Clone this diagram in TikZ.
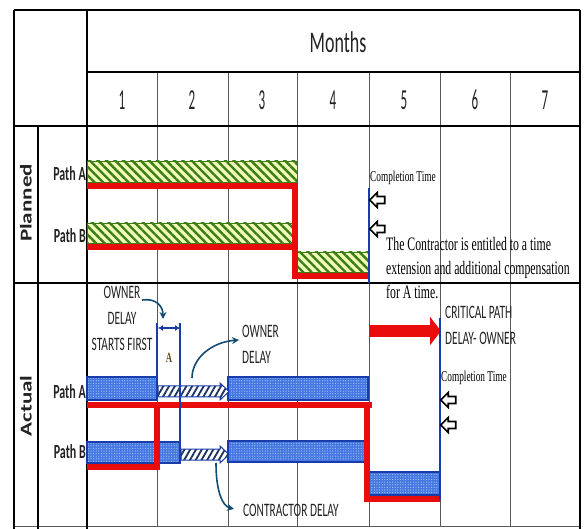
\documentclass[tikz,border=0pt]{standalone}
\usepackage{fontspec}
\newfontfamily\calib[FakeStretch=0.6]{Carlito}
\newfontfamily\calibnarrow[FakeStretch=0.45]{Carlito}
\newfontfamily\calibwide{Carlito}
\newfontfamily\tnr[FakeStretch=0.62]{Liberation Serif}
\usetikzlibrary{arrows.meta,patterns.meta,shapes.arrows}
\definecolor{critred}{RGB}{232,12,12}
\definecolor{hatchgreen}{RGB}{60,125,20}
\definecolor{hatchfill}{RGB}{240,250,185}
\definecolor{barblue}{RGB}{70,120,225}
\definecolor{dotblue}{RGB}{165,195,248}
\definecolor{edgeblue}{RGB}{25,60,170}
\definecolor{curveblue}{RGB}{20,75,115}
\definecolor{stripenavy}{RGB}{25,50,95}
\definecolor{textgray}{RGB}{35,35,35}
\definecolor{alabel}{RGB}{95,75,20}

\begin{document}
\begin{tikzpicture}[x=1pt, y=-1pt,
  every node/.style={inner sep=0pt, text=textgray},
  thickrule/.style={line width=2.6pt, black},
  thinrule/.style={line width=0.8pt, black!65},
  hatchbar/.style={preaction={fill=hatchfill}, pattern={Lines[angle=-45,distance=6pt,line width=2.4pt]}, pattern color=hatchgreen, draw=hatchgreen, line width=0.8pt},
  bluebar/.style={preaction={fill=barblue}, pattern={Dots[radius=0.6pt,distance=2.6pt]}, pattern color=dotblue, draw=edgeblue, line width=1.2pt},
  stripearrow/.style={preaction={fill=white}, pattern={Lines[angle=60,distance=5pt,line width=1.8pt]}, pattern color=stripenavy, draw=edgeblue, line width=1pt},
  redline/.style={critred, line width=6pt},
  curvearrow/.style={curveblue, line width=1.6pt, -{Stealth[length=7pt,width=7pt]}},
  outarrow/.style={single arrow, draw=black, line width=1.7pt, fill=white, shape border rotate=180, minimum height=15pt, minimum width=15pt, single arrow head extend=3.5pt, inner sep=2.2pt},
  sans/.style={font=\calib\fontsize{19}{26}\selectfont},
  serif/.style={font=\tnr\fontsize{19}{24}\selectfont, text=black}]
\useasboundingbox (0,0) rectangle (584,529);

% grid
\foreach \x in {157,228,297,369,440,510}
  \draw[thinrule] (\x,72) -- (\x,527);
\draw[thinrule] (14,526) -- (580,526);
\draw[thickrule] (14,10) -- (580,10);
\draw[thickrule] (14,10) -- (14,529);
\draw[thickrule] (580,10) -- (580,529);
\draw[thickrule] (87,10) -- (87,529);
\draw[thickrule] (38,126) -- (38,529);
\draw[thickrule] (87,72) -- (580,72);
\draw[thickrule] (14,126) -- (580,126);
\draw[thickrule] (14,283) -- (580,283);

% headings
\node[font=\calib\fontsize{30}{30}\selectfont] (months) at (338,42) {Months};
\foreach \m [count=\i] in {122,192,262,333,404,475,545}
  \node[font=\calibnarrow\fontsize{29}{29}\selectfont] (month\i) at (\m,100) {\i};
\node[rotate=90] (planned) at (26,203) {\scalebox{1}[0.72]{\calibwide\bfseries\fontsize{23}{23}\selectfont Planned}};
\node[rotate=90] (actual) at (26,406) {\scalebox{1}[0.72]{\calibwide\bfseries\fontsize{23}{23}\selectfont Actual}};
\node[anchor=east, font=\calib\bfseries\fontsize{20}{20}\selectfont] (pathAplan) at (86,174) {Path A};
\node[anchor=east, font=\calib\bfseries\fontsize{20}{20}\selectfont] (pathBplan) at (86,236) {Path B};
\node[anchor=east, font=\calib\bfseries\fontsize{20}{20}\selectfont] (pathAact) at (86,392) {Path A};
\node[anchor=east, font=\calib\bfseries\fontsize{20}{20}\selectfont] (pathBact) at (86,452) {Path B};

% planned schedule
\draw[hatchbar] (87,161) rectangle (297,182);
\draw[hatchbar] (87,223) rectangle (295,243);
\draw[hatchbar] (297,252) rectangle (369,272);
\draw[redline] (87,186) -- (295,186) -- (295,276) -- (369,276);
\draw[redline] (87,247) -- (295,247);
\draw[edgeblue, line width=1.5pt] (369,188) -- (369,283);
\node[anchor=west, font=\tnr\fontsize{15}{15}\selectfont, text=black] (donePlan) at (370,178) {Completion Time};
\node[outarrow] (cueA) at (379,200) {};
\node[outarrow] (cueB) at (379,229) {};
\node[serif, anchor=north west, align=left] (entitled) at (386,237)
  {The Contractor is entitled to a time\\extension and additional compensation\\for A time.};

% actual schedule
\draw[bluebar] (87,377) rectangle (157,400);
\draw[bluebar] (228,377) rectangle (368,400);
\draw[bluebar] (87,442) rectangle (180,463);
\draw[bluebar] (228,441) rectangle (366,462);
\draw[bluebar] (369,472) rectangle (440,495);
\draw[stripearrow] (158,386) -- (220,386) -- (220,383) -- (229,391.5) -- (220,400) -- (220,397) -- (158,397) -- cycle;
\draw[stripearrow] (181,449) -- (220,449) -- (220,446) -- (229,454.5) -- (220,463) -- (220,460) -- (181,460) -- cycle;
\draw[redline] (87,405) -- (372,405);
\draw[redline] (87,467) -- (157,467) -- (157,405);
\draw[redline] (367,405) -- (367,499) -- (440,499);
\draw[edgeblue, line width=1.2pt] (157,323) -- (157,377);
\draw[edgeblue, line width=1.2pt] (180,323) -- (180,442);
\coordinate (aleft) at (158,328);
\coordinate (aright) at (180,328);
\draw[edgeblue, line width=1.8pt, {Latex[length=5pt,width=6pt]}-{Latex[length=5pt,width=6pt]}] (aleft) -- (aright);
\node[font=\tnr\bfseries\fontsize{14}{14}\selectfont, text=alabel] (alen) at (169,358) {A};

\node[sans, align=center, anchor=north] (ownerfirst) at (122,286) {OWNER\\DELAY\\STARTS FIRST};
\node[sans, align=left, anchor=north west] (ownerdelay) at (242,325) {OWNER\\DELAY};
\node[sans, anchor=west] (contractor) at (243,510) {CONTRACTOR DELAY};
\coordinate (ownerfrom) at (142,300);
\coordinate (ownerto) at (163,319);
\draw[curvearrow] (ownerfrom) .. controls (156,298) and (163,306) .. (ownerto);
\coordinate (delayfrom) at (192,378);
\coordinate (delayto) at (239,340);
\draw[curvearrow] (delayfrom) .. controls (192,358) and (212,342) .. (delayto);
\coordinate (contrfrom) at (216,463);
\coordinate (contrto) at (234,509);
\draw[curvearrow] (contrfrom) .. controls (216,490) and (222,506) .. (contrto);

\draw[critred, line width=12pt, -{Triangle[length=11pt,width=28pt]}] (369,331) -- (441,331);
\node[sans, align=left, anchor=north west] (critical) at (445,306) {CRITICAL PATH\\DELAY- OWNER};
\draw[edgeblue, line width=1.5pt] (440,318) -- (440,500);
\node[anchor=west, font=\tnr\fontsize{15}{15}\selectfont, text=black] (doneAct) at (441,378) {Completion Time};
\node[outarrow] (cueC) at (450,400) {};
\node[outarrow] (cueD) at (450,425) {};
\end{tikzpicture}
\end{document}
